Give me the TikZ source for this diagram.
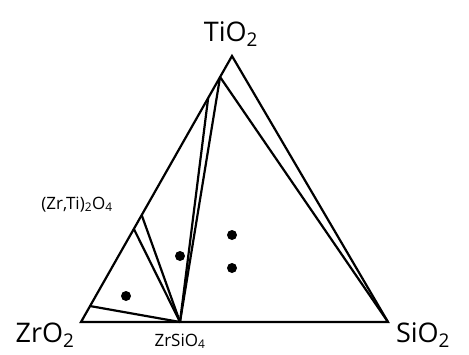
\documentclass[tikz,border=0pt]{standalone}
\usepackage{fontspec}
\setmainfont{Open Sans}
\usetikzlibrary{positioning,calc}

\begin{document}
\begin{tikzpicture}[
    x=1pt, y=-1pt,
    every node/.style={inner sep=0pt, outer sep=0pt},
    compound/.style={font=\fontsize{27}{30}\selectfont, anchor=base},
    phase/.style={font=\fontsize{17}{19}\selectfont, anchor=base},
    tieline/.style={line width=2.2pt, line join=miter},
    sample/.style={circle, fill=black, minimum size=10pt},
]
\useasboundingbox (0,0) rectangle (469,354);

% -------- corners of the ternary --------
\coordinate (TiO2) at (232,56);
\coordinate (ZrO2) at (81,322);
\coordinate (SiO2) at (388,322);
\coordinate (ZrSiO4) at (180,322);

% points on the ZrO2--TiO2 side
\coordinate (rutA) at ($(ZrO2)!0.921!(TiO2)$);
\coordinate (rutB) at ($(ZrO2)!0.842!(TiO2)$);
\coordinate (ztA)  at ($(ZrO2)!0.402!(TiO2)$);
\coordinate (ztB)  at ($(ZrO2)!0.350!(TiO2)$);
\coordinate (zro)  at ($(ZrO2)!0.060!(TiO2)$);

% -------- outline and tie lines --------
\draw[tieline] (ZrO2) -- (TiO2) -- (SiO2) -- cycle;
\draw[tieline] (rutA) -- (SiO2);
\draw[tieline] (rutA) -- (ZrSiO4);
\draw[tieline] (rutB) -- (ZrSiO4);
\draw[tieline] (ztA) -- (ZrSiO4);
\draw[tieline] (ztB) -- (ZrSiO4);
\draw[tieline] (zro) -- (ZrSiO4);

% -------- compositions --------
\node[sample] (s1) at (126,296) {};
\node[sample] (s2) at (180,256) {};
\node[sample] (s3) at (232,235) {};
\node[sample] (s4) at (232,268) {};

% -------- labels --------
\node[compound] (lTi) at (231,41) {TiO\textsubscript{2}};
\node[compound] (lZr) at (45,342) {ZrO\textsubscript{2}};
\node[compound] (lSi) at (423,342) {SiO\textsubscript{2}};
\node[phase] (lZS) at (180,346) {ZrSiO\textsubscript{4}};
\node[phase] (lZT) at (77,209) {(Zr,Ti)\textsubscript{2}O\textsubscript{4}};
\end{tikzpicture}
\end{document}
